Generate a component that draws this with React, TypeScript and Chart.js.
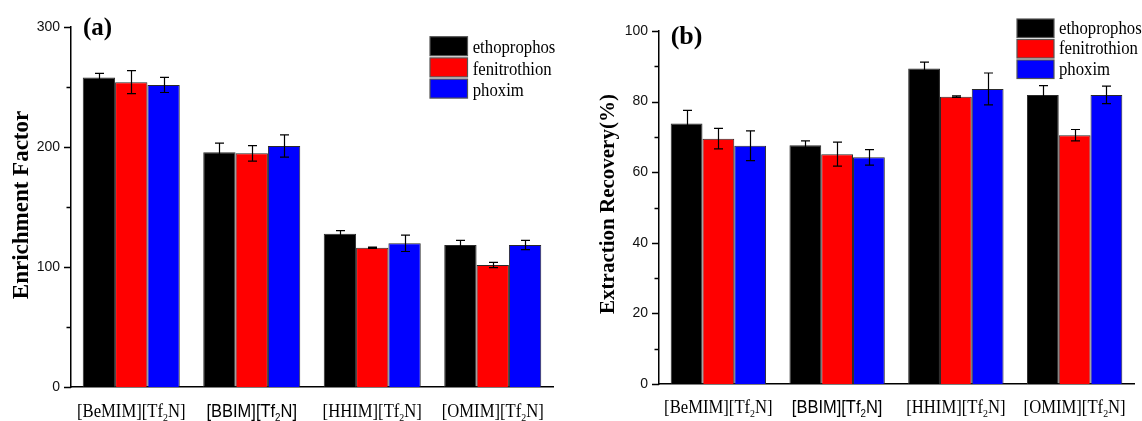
import React, { useEffect, useRef } from 'react';
import { Chart, registerables } from 'chart.js';

Chart.register(...registerables);

// ---------- data ----------
const categories = ['[BeMIM][Tf₂N]', '[BBIM][Tf₂N]', '[HHIM][Tf₂N]', '[OMIM][Tf₂N]'];
const sansCategories = ['[BBIM][Tf₂N]'];
const seriesNames = ['ethoprophos', 'fenitrothion', 'phoxim'];
const seriesColors = ['#000000', '#ff0000', '#0000ff'];

// (a) Enrichment Factor
const efEtho = [258, 195.6, 127.8, 118.3];
const efFeni = [254, 194.7, 116.1, 101.7];
const efPhox = [251.7, 200.8, 119.7, 118.3];
const efEthoErr = [3.3, 7.7, 2.5, 3.9];
const efFeniErr = [9.6, 6.4, 0.5, 2.2];
const efPhoxErr = [6.3, 9.3, 6.8, 3.9];
const efMajorTicks = [0, 100, 200, 300];
const efMinorTicks = [50, 150, 250];

// (b) Extraction Recovery (%)
const erEtho = [73.8, 67.6, 89.4, 81.9];
const erFeni = [69.5, 65.1, 81.4, 70.5];
const erPhox = [67.5, 64.2, 83.6, 81.9];
const erEthoErr = [3.7, 1.3, 1.8, 2.6];
const erFeniErr = [2.9, 3.4, 0.2, 1.6];
const erPhoxErr = [4.2, 2.2, 4.5, 2.5];
const erMajorTicks = [0, 20, 40, 60, 80, 100];
const erMinorTicks = [10, 30, 50, 70, 90];

const SERIF = "'Liberation Serif', 'Times New Roman', Times, serif";
const SANS = "'Liberation Sans', Arial, Helvetica, sans-serif";

type Panel = {
  values: number[][];
  errors: number[][];
  majorTicks: number[];
  minorTicks: number[];
  min: number;
  max: number;
  padTop: number;
  padRight: number;
  yWidth: number;
  xHeight: number;
  catPct: number;
  yTitle: string;
  titleX: number;
  titleY: number;
  titleSize: number;
  panelLabel: string;
  labelX: number;
  labelY: number;
  labelSize: number;
  legX: number;
  legY: number;
  legW: number;
  legH: number;
  legStep: number;
  legTextX: number;
  legTextDy: number;
  xLabelDy: number;
};

const panelA: Panel = {
  values: [efEtho, efFeni, efPhox],
  errors: [efEthoErr, efFeniErr, efPhoxErr],
  majorTicks: efMajorTicks,
  minorTicks: efMinorTicks,
  min: 0,
  max: 300,
  padTop: 27,
  padRight: 18,
  yWidth: 71,
  xHeight: 34,
  catPct: 0.805,
  yTitle: 'Enrichment Factor',
  titleX: 28,
  titleY: 205,
  titleSize: 23,
  panelLabel: '(a)',
  labelX: 83,
  labelY: 35,
  labelSize: 25,
  legX: 430,
  legY: 36.7,
  legW: 37.5,
  legH: 19,
  legStep: 21.2,
  legTextX: 472.7,
  legTextDy: 16.6,
  xLabelDy: 29.5,
};

const panelB: Panel = {
  values: [erEtho, erFeni, erPhox],
  errors: [erEthoErr, erFeniErr, erPhoxErr],
  majorTicks: erMajorTicks,
  minorTicks: erMinorTicks,
  min: 0,
  max: 100,
  padTop: 31,
  padRight: 8,
  yWidth: 88,
  xHeight: 37,
  catPct: 0.803,
  yTitle: 'Extraction Recovery(%)',
  titleX: 42.5,
  titleY: 204,
  titleSize: 21,
  panelLabel: '(b)',
  labelX: 99.7,
  labelY: 44,
  labelSize: 26,
  legX: 446,
  legY: 19,
  legW: 37,
  legH: 18.5,
  legStep: 20.5,
  legTextX: 488,
  legTextDy: 14.5,
  xLabelDy: 28.5,
};

function drawSubLabel(
  ctx: CanvasRenderingContext2D,
  text: string,
  cx: number,
  baseline: number,
  family: string,
  size: number,
  sx: number
) {
  const parts = text.split('₂');
  const mainFont = `${size}px ${family}`;
  const subSize = Math.round(size * 0.62);
  const subFont = `${subSize}px ${family}`;
  ctx.save();
  ctx.font = mainFont;
  const w1 = ctx.measureText(parts[0]).width;
  const w3 = parts.length > 1 ? ctx.measureText(parts[1]).width : 0;
  ctx.font = subFont;
  const w2 = parts.length > 1 ? ctx.measureText('2').width : 0;
  const total = (w1 + w2 + w3) * sx;
  ctx.translate(cx - total / 2, baseline);
  ctx.scale(sx, 1);
  ctx.fillStyle = '#000';
  ctx.textAlign = 'left';
  ctx.textBaseline = 'alphabetic';
  ctx.font = mainFont;
  ctx.fillText(parts[0], 0, 0);
  if (parts.length > 1) {
    ctx.font = subFont;
    ctx.fillText('2', w1, size * 0.22);
    ctx.font = mainFont;
    ctx.fillText(parts[1], w1 + w2, 0);
  }
  ctx.restore();
}

function makeDecor(p: Panel) {
  return {
    id: 'decor',
    afterDatasetsDraw(chart: any) {
      const ctx: CanvasRenderingContext2D = chart.ctx;
      const y = chart.scales.y;
      ctx.save();
      ctx.strokeStyle = '#000';
      ctx.lineWidth = 1.2;
      chart.data.datasets.forEach((ds: any, d: number) => {
        const meta = chart.getDatasetMeta(d);
        meta.data.forEach((bar: any, i: number) => {
          const v = ds.data[i];
          const e = p.errors[d][i];
          const x = Math.round(bar.x) + 0.5;
          const yt = y.getPixelForValue(v + e);
          const yb = y.getPixelForValue(v - e);
          ctx.beginPath();
          ctx.moveTo(x, yt);
          ctx.lineTo(x, yb);
          ctx.moveTo(x - 4.5, yt);
          ctx.lineTo(x + 4.5, yt);
          ctx.moveTo(x - 4.5, yb);
          ctx.lineTo(x + 4.5, yb);
          ctx.stroke();
        });
      });
      ctx.restore();
    },
    afterDraw(chart: any) {
      const ctx: CanvasRenderingContext2D = chart.ctx;
      const area = chart.chartArea;
      const y = chart.scales.y;
      const x = chart.scales.x;
      ctx.save();
      // tick marks
      ctx.strokeStyle = '#000';
      ctx.lineWidth = 1.3;
      ctx.beginPath();
      p.majorTicks.forEach((v) => {
        const py = Math.round(y.getPixelForValue(v)) + 0.5;
        ctx.moveTo(area.left - 7, py);
        ctx.lineTo(area.left, py);
      });
      p.minorTicks.forEach((v) => {
        const py = Math.round(y.getPixelForValue(v)) + 0.5;
        ctx.moveTo(area.left - 4.5, py);
        ctx.lineTo(area.left, py);
      });
      ctx.stroke();

      // category labels
      categories.forEach((c, i) => {
        const cx = x.getPixelForValue(i);
        const sans = sansCategories.includes(c);
        drawSubLabel(ctx, c, cx, area.bottom + p.xLabelDy, sans ? SANS : SERIF, 18.5, sans ? 0.89 : 0.9);
      });

      // y title
      ctx.save();
      ctx.translate(p.titleX, p.titleY);
      ctx.rotate(-Math.PI / 2);
      ctx.font = `bold ${p.titleSize}px ${SERIF}`;
      ctx.fillStyle = '#000';
      ctx.textAlign = 'center';
      ctx.textBaseline = 'alphabetic';
      ctx.fillText(p.yTitle, 0, 0);
      ctx.restore();

      // panel label
      ctx.font = `bold ${p.labelSize}px ${SERIF}`;
      ctx.fillStyle = '#000';
      ctx.textAlign = 'left';
      ctx.textBaseline = 'alphabetic';
      ctx.fillText(p.panelLabel, p.labelX, p.labelY);

      // legend
      seriesNames.forEach((name, i) => {
        const by = p.legY + i * p.legStep;
        ctx.fillStyle = seriesColors[i];
        ctx.fillRect(p.legX, by, p.legW, p.legH);
        ctx.strokeStyle = '#555';
        ctx.lineWidth = 1.2;
        ctx.strokeRect(p.legX, by, p.legW, p.legH);
        ctx.save();
        ctx.translate(p.legTextX, by + p.legTextDy);
        ctx.scale(0.88, 1);
        ctx.font = `19px ${SERIF}`;
        ctx.fillStyle = '#000';
        ctx.textAlign = 'left';
        ctx.fillText(name, 0, 0);
        ctx.restore();
      });
      ctx.restore();
    },
  };
}

function buildConfig(p: Panel): any {
  return {
    type: 'bar',
    data: {
      labels: categories,
      datasets: seriesNames.map((name, i) => ({
        label: name,
        data: p.values[i],
        backgroundColor: seriesColors[i],
        borderColor: '#2a2a2a',
        borderWidth: 1,
        barPercentage: 1,
        categoryPercentage: p.catPct,
      })),
    },
    options: {
      animation: false,
      responsive: false,
      devicePixelRatio: 1,
      events: [],
      layout: { padding: { left: 0, top: p.padTop, right: p.padRight, bottom: 0 } },
      plugins: {
        legend: { display: false },
        tooltip: { enabled: false },
        title: { display: false },
      },
      scales: {
        x: {
          type: 'category',
          ticks: { display: false },
          grid: { display: false, drawTicks: false },
          border: { display: true, color: '#000', width: 1.5 },
          afterFit: (s: any) => {
            s.height = p.xHeight;
          },
        },
        y: {
          min: p.min,
          max: p.max,
          afterBuildTicks: (s: any) => {
            s.ticks = p.majorTicks.map((v) => ({ value: v }));
          },
          ticks: {
            color: '#111',
            padding: 11,
            font: { family: SANS, size: 14 },
          },
          grid: { display: false, drawTicks: false },
          border: { display: true, color: '#000', width: 1.5 },
          afterFit: (s: any) => {
            s.width = p.yWidth;
          },
        },
      },
    },
    plugins: [makeDecor(p)],
  };
}

export default function App() {
  const refA = useRef<HTMLCanvasElement>(null);
  const refB = useRef<HTMLCanvasElement>(null);
  useEffect(() => {
    const a = new Chart(refA.current as HTMLCanvasElement, buildConfig(panelA));
    const b = new Chart(refB.current as HTMLCanvasElement, buildConfig(panelB));
    return () => {
      a.destroy();
      b.destroy();
    };
  }, []);
  return (
    <div style={{ position: 'absolute', left: 0, top: 0, width: 1142, height: 421, background: '#fff' }}>
      <canvas
        ref={refA}
        width={571}
        height={421}
        style={{ position: 'absolute', left: 0, top: 0, width: 571, height: 421 }}
      />
      <canvas
        ref={refB}
        width={571}
        height={421}
        style={{ position: 'absolute', left: 571, top: 0, width: 571, height: 421 }}
      />
    </div>
  );
}
